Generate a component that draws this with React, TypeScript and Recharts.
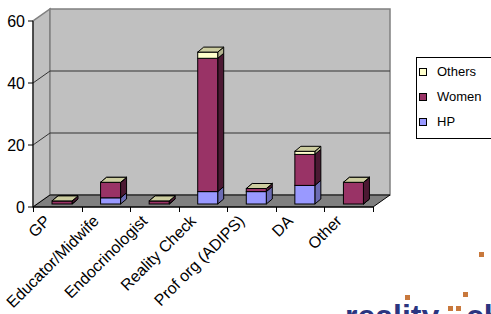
import React from 'react';
import { BarChart, Bar, XAxis, YAxis, ReferenceArea, ReferenceLine, Legend } from 'recharts';

const categories = ['GP', 'Educator/Midwife', 'Endocrinologist', 'Reality Check', 'Prof org (ADIPS)', 'DA', 'Other'];
const hpValues = [0, 2, 0, 4, 4, 6, 0];
const womenValues = [1, 5, 1, 43, 1, 10, 7];
const othersValues = [0, 0, 0, 2, 0, 1, 0];
const yTicks = [0, 20, 40, 60];
const gridValues = [20, 40];
const seriesOrder = ['HP', 'Women', 'Others'];
const legendOrder = ['Others', 'Women', 'HP'];

const data = categories.map((name, i) => ({
  name,
  HP: hpValues[i],
  Women: womenValues[i],
  Others: othersValues[i],
}));

const CHART_W = 491;
const CHART_H = 314;
const MARGIN = { top: 21, right: 118, left: 0, bottom: 0 };
const Y_AXIS_W = 33;
const X_AXIS_H = 107;
const PLOT_LEFT = MARGIN.left + Y_AXIS_W;
const PLOT_RIGHT = CHART_W - MARGIN.right;
const AXIS_Y = CHART_H - MARGIN.bottom - X_AXIS_H;

const WALL_DX = 17;
const WALL_DY = -12;
const BAR_OFF_X = 5;
const BAR_OFF_Y = -3;
const BAR_DX = 6;
const BAR_DY = -5;
const TICK_LEN = 5;
const FONT = 'Arial, "Liberation Sans", sans-serif';

const COLORS: Record<string, { front: string; side: string; top: string }> = {
  HP: { front: '#9999FF', side: '#6B6BB3', top: '#C4C4F0' },
  Women: { front: '#993366', side: '#4C1933', top: '#7A2952' },
  Others: { front: '#FFFFCC', side: '#B3B38F', top: '#CCCC9F' },
};

function make3DShape(key: string) {
  return (props: any) => {
    const { x, y, width, height, payload } = props;
    if (x == null || y == null || width == null) return null;
    const idx = seriesOrder.indexOf(key);
    const above = seriesOrder.slice(idx + 1);
    const isTop = above.every((k) => !(payload && payload[k] > 0));
    const hh = height || 0;
    const h = Math.abs(hh);
    const top = hh < 0 ? y + hh : y;
    const fx = x + BAR_OFF_X;
    const fy = top + BAR_OFF_Y;
    const w = width;
    const c = COLORS[key];
    return (
      <g>
        <polygon
          points={`${fx + w},${fy} ${fx + w + BAR_DX},${fy + BAR_DY} ${fx + w + BAR_DX},${fy + h + BAR_DY} ${fx + w},${fy + h}`}
          fill={c.side}
          stroke="#000"
          strokeWidth={1}
          strokeLinejoin="round"
        />
        <rect x={fx} y={fy} width={w} height={h} fill={c.front} stroke="#000" strokeWidth={1} />
        {isTop && (
          <polygon
            points={`${fx},${fy} ${fx + w},${fy} ${fx + w + BAR_DX},${fy + BAR_DY} ${fx + BAR_DX},${fy + BAR_DY}`}
            fill={COLORS.Others.top}
            stroke="#000"
            strokeWidth={1}
            strokeLinejoin="round"
          />
        )}
      </g>
    );
  };
}

const WallsShape = (props: any) => {
  const { x, y, width, height } = props;
  if (x == null) return null;
  const bx = x + WALL_DX;
  const by = y + WALL_DY;
  const bottom = y + height;
  return (
    <g>
      <polygon
        points={`${x},${bottom} ${bx},${bottom + WALL_DY} ${bx},${by} ${x},${y}`}
        fill="#C0C0C0"
        stroke="#808080"
        strokeWidth={1.5}
      />
      <rect x={bx} y={by} width={width} height={height} fill="#C0C0C0" stroke="#808080" strokeWidth={1.5} />
      <polygon
        points={`${x},${bottom} ${x + width},${bottom} ${x + width + WALL_DX},${bottom + WALL_DY} ${bx},${bottom + WALL_DY}`}
        fill="#808080"
        stroke="#000"
        strokeWidth={1}
      />
    </g>
  );
};

const GridShape = (props: any) => {
  const { x1, y1, x2, y2 } = props;
  if (x1 == null) return null;
  return (
    <polyline
      points={`${x1},${y1} ${x1 + WALL_DX},${y1 + WALL_DY} ${x2 + WALL_DX},${y2 + WALL_DY}`}
      fill="none"
      stroke="#333"
      strokeWidth={1}
    />
  );
};

const CategoryTick = (props: any) => {
  const { x, y, payload } = props;
  const tx = x - 6;
  const ty = y + 10;
  return (
    <text
      x={tx}
      y={ty}
      transform={`rotate(-45, ${tx}, ${ty})`}
      textAnchor="end"
      fontSize={16}
      fontFamily={FONT}
      fill="#000"
    >
      {payload.value}
    </text>
  );
};

const LegendContent = () => (
  <div
    style={{
      position: 'relative',
      width: 90,
      height: 82,
      border: '1px solid #000',
      boxSizing: 'border-box',
      background: '#fff',
      fontFamily: FONT,
      fontSize: 13,
      color: '#000',
    }}
  >
    {legendOrder.map((k, i) => (
      <div
        key={k}
        style={{ position: 'absolute', left: 2, top: 7 + i * 25, height: 14, display: 'flex', alignItems: 'center' }}
      >
        <span
          style={{
            display: 'inline-block',
            width: 8,
            height: 8,
            border: '1px solid #000',
            boxSizing: 'border-box',
            background: COLORS[k].front,
            marginRight: 10,
          }}
        />
        <span style={{ lineHeight: '14px' }}>{k}</span>
      </div>
    ))}
  </div>
);

export default function App() {
  const n = categories.length;
  const bounds = Array.from({ length: n + 1 }, (_, i) => Math.round(PLOT_LEFT + (i * (PLOT_RIGHT - PLOT_LEFT)) / n) + 0.5);
  return (
    <div style={{ position: 'absolute', left: 0, top: 0, width: CHART_W, height: CHART_H, overflow: 'hidden', background: '#fff' }}>
      <BarChart width={CHART_W} height={CHART_H} data={data} margin={MARGIN} barSize={20}>
        <ReferenceArea y1={0} y2={60} shape={WallsShape} ifOverflow="visible" zIndex={-50} />
        {gridValues.map((v) => (
          <ReferenceLine key={v} y={v} shape={GridShape} ifOverflow="visible" zIndex={-40} />
        ))}
        <XAxis
          dataKey="name"
          height={X_AXIS_H}
          axisLine={{ stroke: '#000' }}
          tickLine={false}
          tickSize={5}
          tickMargin={0}
          interval={0}
          tick={<CategoryTick />}
        />
        <YAxis
          domain={[0, 60]}
          ticks={yTicks}
          width={Y_AXIS_W}
          tickSize={5}
          tickMargin={3}
          interval={0}
          axisLine={{ stroke: '#000' }}
          tickLine={{ stroke: '#000' }}
          tick={{ fontSize: 16, fill: '#000', fontFamily: FONT }}
        />
        <Legend
          layout="horizontal"
          verticalAlign="middle"
          align="center"
          wrapperStyle={{ position: 'absolute', left: 416, top: 57, width: 90, height: 82 }}
          content={<LegendContent />}
        />
        <Bar dataKey="HP" stackId="a" fill={COLORS.HP.front} shape={make3DShape('HP')} isAnimationActive={false} />
        <Bar dataKey="Women" stackId="a" fill={COLORS.Women.front} shape={make3DShape('Women')} isAnimationActive={false} />
        <Bar dataKey="Others" stackId="a" fill={COLORS.Others.front} shape={make3DShape('Others')} isAnimationActive={false} />
      </BarChart>
      <svg
        width={CHART_W}
        height={CHART_H}
        style={{ position: 'absolute', left: 0, top: 0, pointerEvents: 'none' }}
      >
        {bounds.map((bx, i) => (
          <line key={i} x1={bx} y1={AXIS_Y} x2={bx} y2={AXIS_Y + TICK_LEN} stroke="#000" strokeWidth={1} />
        ))}
        <text x={345} y={327} fontFamily={FONT} fontWeight="bold" fontSize={32} fill="#2B3580">reality</text>
        <rect x={448} y={306} width={5} height={5} fill="#C8783C" />
        <rect x={456} y={306} width={5} height={5} fill="#C8783C" />
        <text x={466} y={327} fontFamily={FONT} fontWeight="bold" fontSize={32} fill="#2B3580">ch</text>
        <rect x={405} y={295} width={5} height={5} fill="#C8783C" />
        <rect x={463} y={292} width={5} height={5} fill="#C8783C" />
        <rect x={479} y={252} width={5} height={5} fill="#C8783C" />
      </svg>
    </div>
  );
}
